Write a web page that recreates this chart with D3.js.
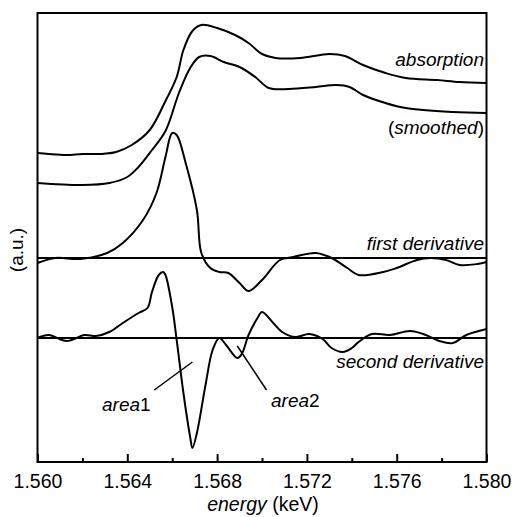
<!DOCTYPE html>
<html>
<head>
<meta charset="utf-8">
<script src="https://cdn.jsdelivr.net/npm/d3@7"></script>
<style>
  html, body { margin: 0; padding: 0; background: #fff; }
  svg { display: block; }
  text { font-family: "Liberation Sans", Arial, sans-serif; fill: #000; }
</style>
</head>
<body>
<svg id="chart" width="514" height="517"></svg>
<script>
// energy in keV, intensity in arbitrary units
const absorptionE = [1.5600, 1.5605, 1.5613, 1.5620, 1.5628, 1.5635, 1.5642, 1.5650, 1.5657, 1.5662, 1.5665, 1.5669, 1.5673, 1.5680, 1.5688, 1.5694, 1.5700, 1.5706, 1.5717, 1.5730, 1.5737, 1.5745, 1.5755, 1.5764, 1.5778, 1.5788, 1.5800];
const absorptionY = [309, 308, 307, 308, 308, 310, 317, 332, 361, 385, 412, 431, 437, 434, 427, 419, 408, 404, 404, 408, 406, 397, 389, 384, 382, 380, 379];

const smoothedE = [1.5600, 1.5620, 1.5632, 1.5640, 1.5645, 1.5651, 1.5657, 1.5663, 1.5668, 1.5672, 1.5677, 1.5683, 1.5690, 1.5697, 1.5703, 1.5712, 1.5724, 1.5733, 1.5739, 1.5745, 1.5755, 1.5764, 1.5785, 1.5800];
const smoothedY = [279, 277, 279, 285, 295, 312, 331, 369, 394, 405, 406, 400, 395, 385, 374, 373, 375, 377, 375, 367, 359, 354, 350, 349];

const firstDerivE = [1.5600, 1.5608, 1.5619, 1.5631, 1.5638, 1.5647, 1.5653, 1.5657, 1.5660, 1.5662, 1.5666, 1.5671, 1.5673, 1.5677, 1.5681, 1.5685, 1.5690, 1.5694, 1.5700, 1.5708, 1.5714, 1.5724, 1.5731, 1.5738, 1.5743, 1.5754, 1.5760, 1.5769, 1.5775, 1.5782, 1.5788, 1.5796, 1.5800];
const firstDerivY = [199, 204, 203, 209, 219, 242, 269, 305, 329, 327, 299, 252, 209, 194, 190, 189, 179, 171, 182, 202, 205, 209, 204, 194, 187, 190, 194, 202, 204, 202, 197, 198, 200];

const secondDerivE = [1.5600, 1.5605, 1.5613, 1.5621, 1.5626, 1.5632, 1.5638, 1.5645, 1.5649, 1.5651, 1.5654, 1.5656, 1.5657, 1.5660, 1.5662, 1.5665, 1.5668, 1.5669, 1.5671, 1.5675, 1.5678, 1.5681, 1.5684, 1.5689, 1.5691, 1.5694, 1.5698, 1.5700, 1.5705, 1.5709, 1.5715, 1.5721, 1.5727, 1.5731, 1.5736, 1.5740, 1.5743, 1.5749, 1.5757, 1.5766, 1.5773, 1.5779, 1.5785, 1.5791, 1.5800];
const secondDerivY = [124, 127, 121, 127, 126, 130, 139, 149, 154, 170, 187, 190, 187, 155, 122, 69, 25, 14, 29, 79, 112, 124, 117, 104, 108, 127, 144, 150, 139, 130, 125, 128, 123, 114, 110, 114, 120, 128, 127, 131, 127, 121, 119, 127, 133];

// zero lines of the two derivative curves
const zeroLevels = [204, 124];

const majorTicks = [1.560, 1.564, 1.568, 1.572, 1.576, 1.580];
const minorTicks = [1.562, 1.566, 1.570, 1.574, 1.578];

const svg = d3.select('#chart');

const margin = { left: 37.5, right: 27.5, top: 13, bottom: 55 };
const width = +svg.attr('width');
const height = +svg.attr('height');

const x = d3.scaleLinear()
  .domain([1.560, 1.580])
  .range([margin.left, width - margin.right]);

const y = d3.scaleLinear()
  .domain([0, 449])
  .range([height - margin.bottom, margin.top]);

const line = d3.line()
  .x(d => x(d[0]))
  .y(d => y(d[1]))
  .curve(d3.curveCatmullRom.alpha(0.5));

const series = [
  [absorptionE, absorptionY],
  [smoothedE, smoothedY],
  [firstDerivE, firstDerivY],
  [secondDerivE, secondDerivY]
];

const plot = svg.append('g');

plot.selectAll('line.zero')
  .data(zeroLevels).enter().append('line')
  .attr('class', 'zero')
  .attr('x1', x(1.560)).attr('x2', x(1.580))
  .attr('y1', d => y(d)).attr('y2', d => y(d))
  .attr('stroke', '#000').attr('stroke-width', 2);

plot.selectAll('path.curve')
  .data(series).enter().append('path')
  .attr('class', 'curve')
  .attr('d', s => line(d3.zip(s[0], s[1])))
  .attr('fill', 'none')
  .attr('stroke', '#000')
  .attr('stroke-width', 2)
  .attr('stroke-linejoin', 'round');

// leader lines for the two areas
const leaders = [
  [[1.5669, 100], [1.5652, 72]],
  [[1.5689, 116], [1.5702, 72]]
];
plot.selectAll('line.leader')
  .data(leaders).enter().append('line')
  .attr('class', 'leader')
  .attr('x1', d => x(d[0][0])).attr('y1', d => y(d[0][1]))
  .attr('x2', d => x(d[1][0])).attr('y2', d => y(d[1][1]))
  .attr('stroke', '#000').attr('stroke-width', 1.5);

// axes
const xAxis = d3.axisBottom(x)
  .tickValues(majorTicks)
  .tickFormat(d3.format('.3f'))
  .tickSize(-8)
  .tickPadding(12);

const xMinor = d3.axisBottom(x)
  .tickValues(minorTicks)
  .tickFormat('')
  .tickSize(-4);

const gx = svg.append('g')
  .attr('transform', `translate(0,${height - margin.bottom})`)
  .call(xAxis);
gx.select('.domain').remove();
gx.selectAll('line').attr('stroke-width', 2);
gx.selectAll('text').attr('font-size', 19.5).attr('font-family', '"Liberation Sans", Arial, sans-serif');

const gm = svg.append('g')
  .attr('transform', `translate(0,${height - margin.bottom})`)
  .call(xMinor);
gm.select('.domain').remove();
gm.selectAll('line').attr('stroke-width', 2);

svg.append('rect')
  .attr('x', margin.left).attr('y', margin.top)
  .attr('width', width - margin.left - margin.right)
  .attr('height', height - margin.top - margin.bottom)
  .attr('fill', 'none').attr('stroke', '#000').attr('stroke-width', 2);

// axis titles
const xt = svg.append('text')
  .attr('x', 263).attr('y', 511)
  .attr('text-anchor', 'middle')
  .attr('font-size', 19.5);
xt.append('tspan').attr('font-style', 'italic').text('energy');
xt.append('tspan').text(' (keV)');

svg.append('text')
  .attr('transform', 'translate(23,250) rotate(-90)')
  .attr('text-anchor', 'middle')
  .attr('font-size', 19)
  .text('(a.u.)');

// curve labels
const labels = [
  { y: 66, parts: [['absorption', true]] },
  { y: 134, parts: [['(', false], ['smoothed', true], [')', false]] },
  { y: 250, parts: [['first derivative', true]] },
  { y: 368, parts: [['second derivative', true]] }
];
labels.forEach(l => {
  const t = svg.append('text')
    .attr('x', 484).attr('y', l.y)
    .attr('text-anchor', 'end')
    .attr('font-size', 19);
  l.parts.forEach(p => t.append('tspan').attr('font-style', p[1] ? 'italic' : 'normal').text(p[0]));
});

const areaLabels = [
  { x: 102, y: 411, name: 'area', num: '1' },
  { x: 271, y: 407, name: 'area', num: '2' }
];
areaLabels.forEach(a => {
  const t = svg.append('text')
    .attr('x', a.x).attr('y', a.y)
    .attr('font-size', 19);
  t.append('tspan').attr('font-style', 'italic').text(a.name);
  t.append('tspan').text(a.num);
});
</script>
</body>
</html>
